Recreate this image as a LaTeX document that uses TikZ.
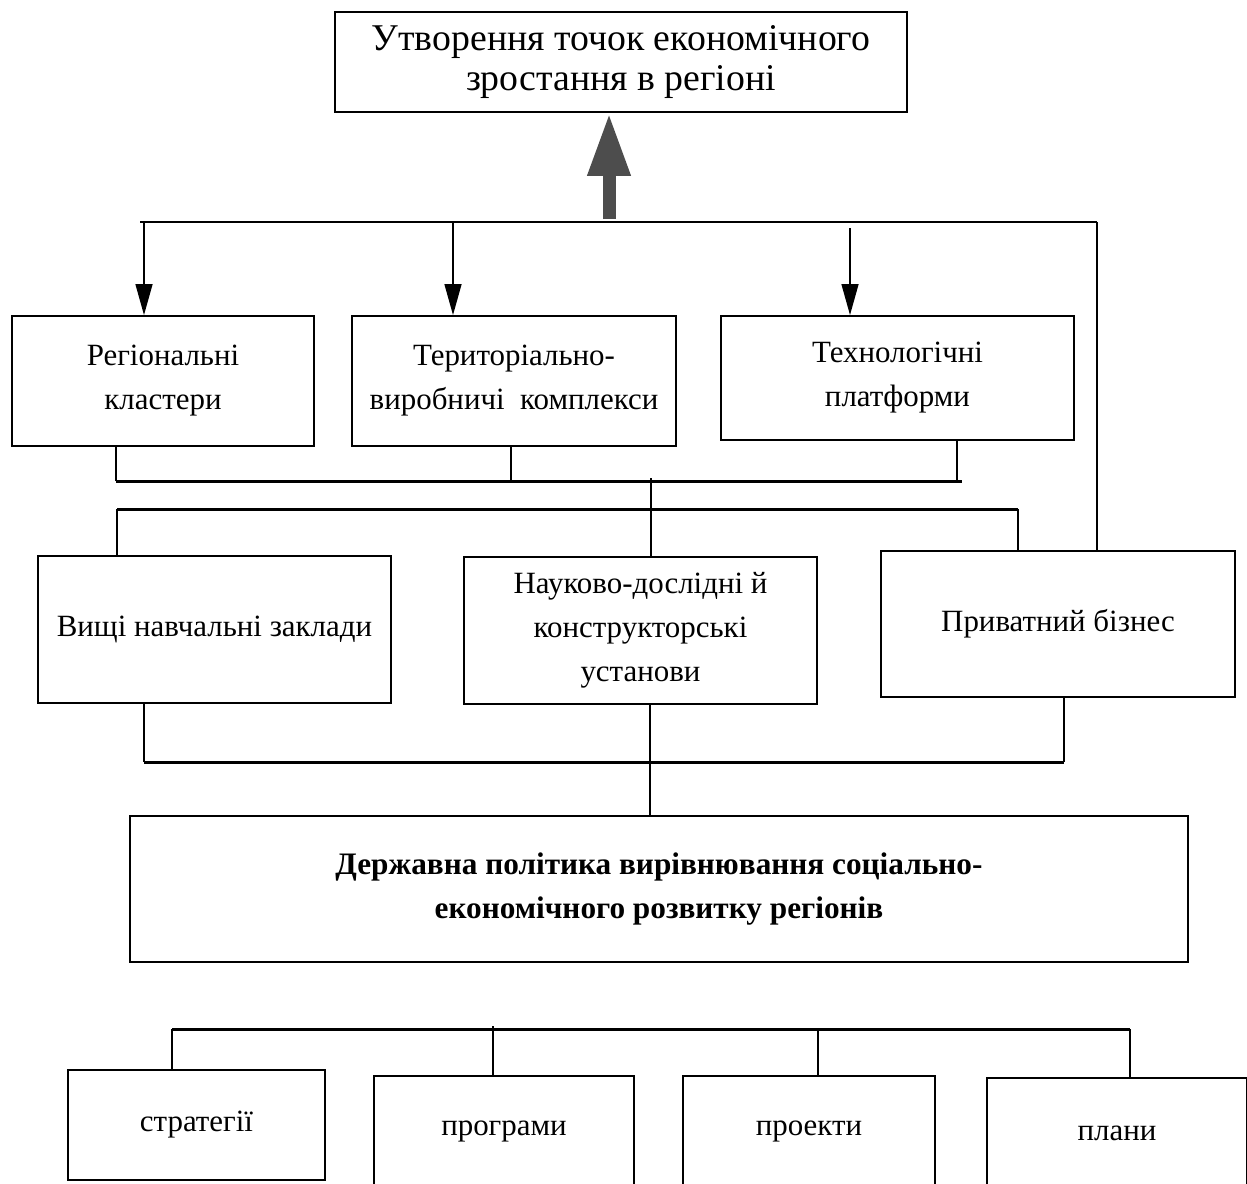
\documentclass[tikz,border=0pt]{standalone}
\usepackage{fontspec}
\setmainfont{Liberation Serif}
\usetikzlibrary{arrows.meta}
\definecolor{sirist}{HTML}{4D4D4D}

\begin{document}
\begin{tikzpicture}[x=0.02cm,y=-0.02cm,
  blok/.style={draw,line width=1.1pt,align=center,inner sep=0pt,font=\fontsize{17.6}{25}\selectfont},
  shyna/.style={line width=1.7pt},
  stiyka/.style={line width=0.8pt},
  strilka/.style={line width=0.8pt,-{Triangle[length=6.2mm,width=3.4mm]}}]
  \useasboundingbox (0,0) rectangle (1247,1183);
  \clip (0,0) rectangle (1247,1183);
  \node[blok,minimum width=11.44cm,minimum height=2cm,font=\fontsize{21.5}{23}\selectfont] (meta) at (621,62) {Утворення точок економічного\\зростання в регіоні};
  \node[blok,minimum width=6.04cm,minimum height=2.6cm] (klast) at (163,381) {Регіональні\\кластери};
  \node[blok,minimum width=6.48cm,minimum height=2.6cm] (tvk) at (514,381) {Територіально-\\виробничі~ комплекси};
  \node[blok,minimum width=7.06cm,minimum height=2.48cm] (platf) at (897.5,378) {Технологічні\\платформи};
  \node[blok,minimum width=7.06cm,minimum height=2.94cm] (vnz) at (214.5,629.5) {Вищі навчальні заклади};
  \node[blok,minimum width=7.06cm,minimum height=2.94cm] (ndku) at (640.5,630.5) {Науково-дослідні й\\конструкторські\\установи};
  \node[blok,minimum width=7.08cm,minimum height=2.92cm] (bizn) at (1058,624) {Приватний бізнес};
  \node[blok,minimum width=21.16cm,minimum height=2.92cm,font=\fontsize{17.8}{25.5}\selectfont\bfseries] (polit) at (659,889) {Державна політика вирівнювання соціально-\\економічного розвитку регіонів};
  \node[blok,minimum width=5.14cm,minimum height=2.2cm] (strat) at (196.5,1125) {стратегії};
  \node[blok,minimum width=5.2cm,minimum height=2.2cm] (progr) at (504,1131) {програми};
  \node[blok,minimum width=5.04cm,minimum height=2.2cm] (proek) at (809,1131) {проекти};
  \node[blok,minimum width=5.2cm,minimum height=2.2cm] (plany) at (1117,1133) {плани};
  \coordinate (s1l) at (140,222);
  \coordinate (s1r) at (1097,222);
  \coordinate (s2l) at (116,481);
  \coordinate (s2r) at (962,481);
  \coordinate (s3l) at (117,509);
  \coordinate (s3r) at (1018,509);
  \coordinate (s4l) at (144,762);
  \coordinate (s4r) at (1064,762);
  \coordinate (s5l) at (172,1029);
  \coordinate (s5r) at (1130,1029);
  \draw[line width=0.26cm,sirist,-{Triangle[length=1.26cm,width=0.8cm]}] (609,219) -- (609,0 |- meta.south);
  \draw[shyna] (s1l) -- (s1r);
  \draw[stiyka] (s1r) -- (s1r |- bizn.north);
  \draw[strilka] (144,222) -- (144,0 |- klast.north);
  \draw[strilka] (453,222) -- (453,0 |- tvk.north);
  \draw[strilka] (850,228) -- (850,0 |- platf.north);
  \draw[shyna] (s2l) -- (s2r);
  \draw[stiyka] (s2l) -- (s2l |- klast.south);
  \draw[stiyka] (511,481) -- (511,0 |- tvk.south);
  \draw[stiyka] (957,481) -- (957,0 |- platf.south);
  \draw[stiyka] (651,478) -- (651,0 |- ndku.north);
  \draw[shyna] (s3l) -- (s3r);
  \draw[stiyka] (s3l) -- (s3l |- vnz.north);
  \draw[stiyka] (s3r) -- (s3r |- bizn.north);
  \draw[shyna] (s4l) -- (s4r);
  \draw[stiyka] (s4l) -- (s4l |- vnz.south);
  \draw[stiyka] (s4r) -- (s4r |- bizn.south);
  \draw[stiyka] (650,0 |- ndku.south) -- (650,0 |- polit.north);
  \draw[shyna] (s5l) -- (s5r);
  \draw[stiyka] (s5l) -- (s5l |- strat.north);
  \draw[stiyka] (493,1026) -- (493,0 |- progr.north);
  \draw[stiyka] (818,1029) -- (818,0 |- proek.north);
  \draw[stiyka] (s5r) -- (s5r |- plany.north);
\end{tikzpicture}
\end{document}
